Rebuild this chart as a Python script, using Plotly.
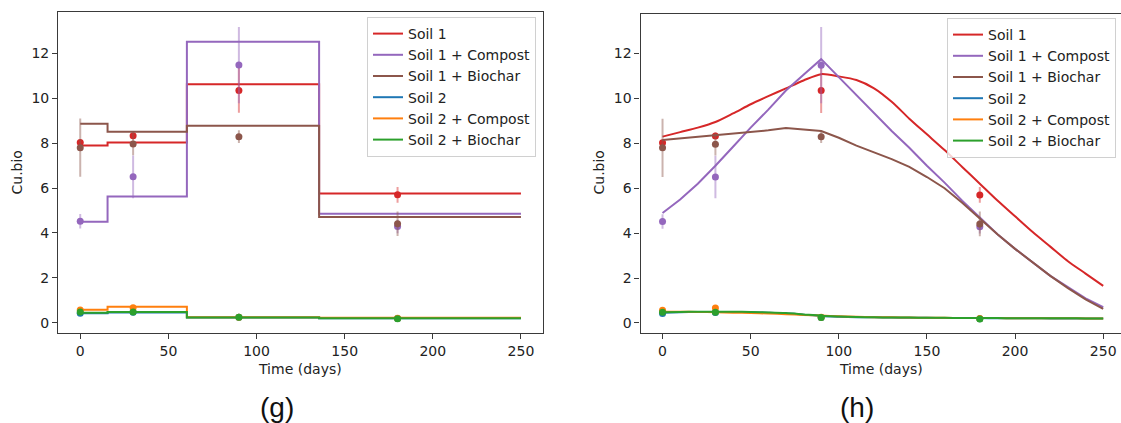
import plotly.graph_objects as go

# ---- observations (mean and standard deviation) ----
obs_days = [0, 30, 90, 180]

series_names = ["Soil 1", "Soil 1 + Compost", "Soil 1 + Biochar",
                "Soil 2", "Soil 2 + Compost", "Soil 2 + Biochar"]
series_colors = ["#d62728", "#9467bd", "#8c564b", "#1f77b4", "#ff7f0e", "#2ca02c"]
error_colors = ["rgba(214,39,40,0.45)", "rgba(148,103,189,0.45)", "rgba(140,86,75,0.45)",
                "rgba(31,119,180,0.45)", "rgba(255,127,14,0.45)", "rgba(44,160,44,0.45)"]

obs_soil1 = [8.03, 8.33, 10.35, 5.70]
obs_soil1_compost = [4.52, 6.50, 11.48, 4.29]
obs_soil1_biochar = [7.80, 7.96, 8.29, 4.41]
obs_soil2 = [0.42, 0.47, 0.24, 0.19]
obs_soil2_compost = [0.57, 0.67, 0.25, 0.20]
obs_soil2_biochar = [0.48, 0.48, 0.24, 0.18]

sd_soil1 = [0.10, 0.15, 1.00, 0.35]
sd_soil1_compost = [0.32, 0.95, 1.70, 0.30]
sd_soil1_biochar = [1.30, 0.50, 0.28, 0.55]
sd_soil2 = [0.04, 0.04, 0.03, 0.02]
sd_soil2_compost = [0.05, 0.06, 0.03, 0.02]
sd_soil2_biochar = [0.05, 0.05, 0.03, 0.02]

# ---- (g) piecewise-constant model ----
step_days = [0, 15.5, 60.5, 135.5]
step_end = 250
step_soil1 = [7.90, 8.03, 10.62, 5.76]
step_soil1_compost = [4.50, 5.62, 12.52, 4.86]
step_soil1_biochar = [8.87, 8.51, 8.78, 4.71]
step_soil2 = [0.42, 0.46, 0.23, 0.20]
step_soil2_compost = [0.58, 0.71, 0.24, 0.22]
step_soil2_biochar = [0.45, 0.48, 0.23, 0.20]

# ---- (h) continuous model ----
model_days = list(range(0, 251, 10))
model_soil1 = [8.30, 8.50, 8.70, 8.95, 9.33, 9.74, 10.10, 10.45, 10.80, 11.08,
               10.98, 10.82, 10.45, 9.85, 9.10, 8.40, 7.70, 6.95, 6.20, 5.45,
               4.75, 4.05, 3.40, 2.75, 2.20, 1.65]
model_soil1_compost = [4.90, 5.50, 6.20, 7.00, 7.85, 8.70, 9.50, 10.35, 11.05, 11.75,
                       10.95, 10.15, 9.35, 8.55, 7.80, 7.00, 6.25, 5.45, 4.70, 3.95,
                       3.30, 2.70, 2.10, 1.60, 1.10, 0.70]
model_soil1_biochar = [8.15, 8.22, 8.28, 8.35, 8.42, 8.50, 8.58, 8.68, 8.63, 8.55,
                       8.25, 7.90, 7.60, 7.30, 6.95, 6.50, 6.00, 5.35, 4.65, 3.95,
                       3.30, 2.70, 2.10, 1.55, 1.05, 0.63]
model_soil2 = [0.46, 0.48, 0.49, 0.49, 0.49, 0.48, 0.46, 0.43, 0.37, 0.31,
               0.28, 0.26, 0.25, 0.24, 0.23, 0.23, 0.22, 0.22, 0.22, 0.21,
               0.21, 0.21, 0.20, 0.20, 0.20, 0.20]
model_soil2_compost = [0.50, 0.50, 0.49, 0.48, 0.46, 0.44, 0.42, 0.39, 0.36, 0.33,
                       0.30, 0.28, 0.26, 0.25, 0.24, 0.23, 0.23, 0.22, 0.22, 0.22,
                       0.21, 0.21, 0.21, 0.21, 0.20, 0.20]
model_soil2_biochar = [0.48, 0.49, 0.50, 0.50, 0.50, 0.49, 0.47, 0.44, 0.38, 0.32,
                       0.29, 0.27, 0.25, 0.24, 0.24, 0.23, 0.23, 0.22, 0.22, 0.22,
                       0.21, 0.21, 0.21, 0.21, 0.20, 0.20]
# smooth curves are drawn as splines; the compost/biochar ones keep their corners
model_smooth = [True, False, False, True, True, True]

x_ticks = [0, 50, 100, 150, 200, 250]
y_ticks = [0, 2, 4, 6, 8, 10, 12]

obs_all = [obs_soil1, obs_soil1_compost, obs_soil1_biochar,
           obs_soil2, obs_soil2_compost, obs_soil2_biochar]
sd_all = [sd_soil1, sd_soil1_compost, sd_soil1_biochar,
          sd_soil2, sd_soil2_compost, sd_soil2_biochar]
step_all = [step_soil1, step_soil1_compost, step_soil1_biochar,
            step_soil2, step_soil2_compost, step_soil2_biochar]
model_all = [model_soil1, model_soil1_compost, model_soil1_biochar,
             model_soil2, model_soil2_compost, model_soil2_biochar]

FONT = "DejaVu Sans"
W, H = 1121, 423

fig = go.Figure()

for i, name in enumerate(series_names):
    # panel (g): step model
    fig.add_trace(go.Scatter(
        x=step_days + [step_end], y=step_all[i] + [step_all[i][-1]],
        mode="lines", line=dict(color=series_colors[i], width=2, shape="hv"),
        name=name, legend="legend", xaxis="x", yaxis="y"))
    fig.add_trace(go.Scatter(
        x=obs_days, y=obs_all[i], mode="markers",
        marker=dict(color=series_colors[i], size=7),
        error_y=dict(type="data", array=sd_all[i], color=error_colors[i],
                     thickness=2, width=0),
        showlegend=False, xaxis="x", yaxis="y"))

for i, name in enumerate(series_names):
    # panel (h): continuous model
    line = dict(color=series_colors[i], width=2)
    if model_smooth[i]:
        line.update(shape="spline", smoothing=0.8)
    fig.add_trace(go.Scatter(
        x=model_days, y=model_all[i], mode="lines", line=line,
        name=name, legend="legend2", xaxis="x2", yaxis="y2"))
    fig.add_trace(go.Scatter(
        x=obs_days, y=obs_all[i], mode="markers",
        marker=dict(color=series_colors[i], size=7),
        error_y=dict(type="data", array=sd_all[i], color=error_colors[i],
                     thickness=2, width=0),
        showlegend=False, xaxis="x2", yaxis="y2"))

axis_line = "#3a3a3a"
common_x = dict(tickvals=x_ticks, ticks="outside", ticklen=5, tickwidth=1,
                tickcolor=axis_line, showline=True, linecolor=axis_line, linewidth=1.3,
                showgrid=False, zeroline=False,
                tickfont=dict(family=FONT, size=14, color="#222"))
common_y = dict(tickvals=y_ticks, ticks="outside", ticklen=5, tickwidth=1,
                tickcolor=axis_line, showline=True, linecolor=axis_line, linewidth=1.3,
                showgrid=False, zeroline=False,
                tickfont=dict(family=FONT, size=14, color="#222"))

legend_style = dict(font=dict(family=FONT, size=14, color="#222"),
                    bgcolor="rgba(255,255,255,0.8)", bordercolor="#d0d0d0",
                    borderwidth=1, xanchor="right", yanchor="top",
                    tracegroupgap=0)

fig.update_layout(
    width=W, height=H, margin=dict(l=0, r=0, t=0, b=0),
    paper_bgcolor="white", plot_bgcolor="white",
    xaxis=dict(domain=[58.2 / W, 543 / W], range=[-12.5, 262.5], mirror=True,
               anchor="y", **common_x),
    yaxis=dict(domain=[1 - 333.3 / H, 1 - 12.3 / H], range=[-0.47, 13.83], mirror=True,
               anchor="x", **common_y),
    xaxis2=dict(domain=[640.5 / W, 1.0], range=[-12.5, 260.1], mirror=True,
                anchor="y2", **common_x),
    yaxis2=dict(domain=[1 - 333.3 / H, 1 - 14 / H], range=[-0.46, 13.76], mirror=False,
                anchor="x2", **common_y),
    legend=dict(x=536 / W, y=1 - 17 / H, **legend_style),
    legend2=dict(x=1116 / W, y=1 - 18 / H, **legend_style),
    showlegend=True,
)

label_font = dict(family=FONT, size=14, color="#222")
annotations = [
    dict(text="Time (days)", x=300 / W, y=1 - 369 / H, xref="paper", yref="paper",
         showarrow=False, font=label_font, xanchor="center", yanchor="middle"),
    dict(text="Time (days)", x=881 / W, y=1 - 369 / H, xref="paper", yref="paper",
         showarrow=False, font=label_font, xanchor="center", yanchor="middle"),
    dict(text="Cu.bio", x=16.5 / W, y=1 - 173 / H, xref="paper", yref="paper",
         showarrow=False, font=label_font, textangle=-90,
         xanchor="center", yanchor="middle"),
    dict(text="Cu.bio", x=598.5 / W, y=1 - 173 / H, xref="paper", yref="paper",
         showarrow=False, font=label_font, textangle=-90,
         xanchor="center", yanchor="middle"),
    dict(text="(g)", x=277 / W, y=1 - 407 / H, xref="paper", yref="paper",
         showarrow=False, font=dict(family="Liberation Sans", size=28, color="#111"),
         xanchor="center", yanchor="middle"),
    dict(text="(h)", x=857 / W, y=1 - 407 / H, xref="paper", yref="paper",
         showarrow=False, font=dict(family="Liberation Sans", size=28, color="#111"),
         xanchor="center", yanchor="middle"),
]
fig.update_layout(annotations=annotations)

fig.write_html("out.html")
